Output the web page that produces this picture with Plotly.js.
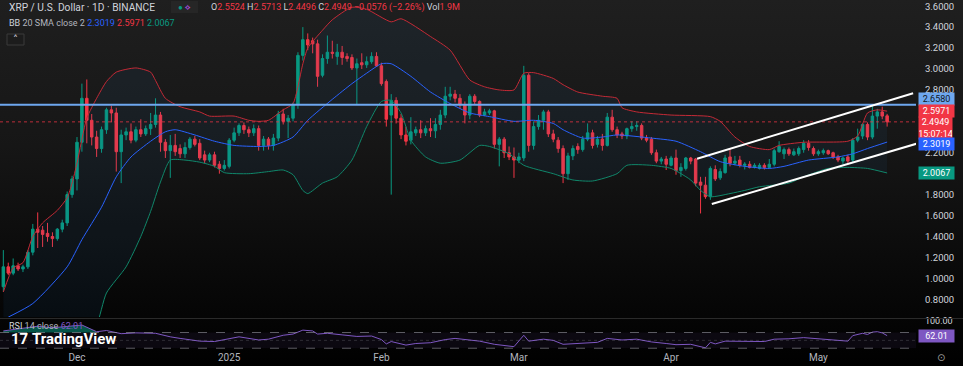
<!DOCTYPE html>
<html><head><meta charset="utf-8">
<script src="https://cdn.plot.ly/plotly-3.0.1.min.js"></script>
<style>
html,body{margin:0;padding:0;width:963px;height:366px;overflow:hidden;
background:linear-gradient(to bottom,#1f1f1f 0%,#161616 40%,#080808 78%,#000 100%);}
#chart{width:963px;height:366px;}
</style></head><body><div id="chart"></div>
<script>
// ---------- DATA (daily candles, first candle 2024-11-16) ----------
const firstDay = '2024-11-16';
const opens = [
0.92,1.11,1.05,1.12,1.09,1.11,1.25,1.47,1.46,1.43,1.40,1.38,1.47,1.53,1.80,
1.95,2.30,2.72,2.51,2.35,2.24,2.42,2.61,2.58,2.21,2.37,2.40,2.32,2.42,2.38,2.43,2.47,2.56,2.30,2.22,2.27,2.24,2.19,2.25,2.33,2.29,2.18,2.13,2.18,2.09,2.05,
2.07,2.32,2.39,2.46,2.42,2.39,2.43,2.27,2.33,2.27,2.34,2.57,2.50,2.53,2.66,3.13,3.28,3.27,3.24,2.94,3.10,3.16,3.12,3.16,3.12,3.11,3.01,3.06,3.04,3.07,3.12,
3.03,2.88,2.56,2.70,2.53,2.37,2.32,2.39,2.42,2.39,2.43,2.41,2.47,2.56,2.74,2.76,2.72,2.66,2.56,2.74,2.69,2.56,2.58,2.60,2.28,2.33,2.20,2.16,
2.13,2.15,2.94,2.27,2.45,2.51,2.59,2.38,2.32,2.24,2.00,2.17,2.26,2.23,2.33,2.39,2.28,2.33,2.27,2.54,2.42,2.38,2.36,2.43,2.45,2.46,2.34,2.33,2.20,2.12,2.14,
2.08,2.15,2.03,2.05,2.15,2.14,1.92,1.89,1.78,2.04,1.96,2.01,2.16,2.10,2.13,2.08,2.09,2.06,2.05,2.08,2.06,2.09,2.21,2.19,2.23,2.18,2.19,2.23,2.29,2.24,
2.19,2.20,2.22,2.20,2.16,2.12,2.16,2.13,2.32,2.36,2.47,2.35,2.55,2.59,2.5524];
const highs = [
1.27,1.15,1.19,1.15,1.13,1.27,1.52,1.63,1.50,1.53,1.44,1.48,1.56,1.83,1.98,
2.35,2.86,2.90,2.57,2.41,2.45,2.63,2.65,2.63,2.42,2.44,2.48,2.45,2.52,2.46,2.58,2.72,2.59,2.33,2.37,2.38,2.28,2.30,2.35,2.36,2.33,2.22,2.20,2.21,2.12,2.13,
2.34,2.44,2.48,2.49,2.45,2.47,2.46,2.36,2.35,2.38,2.60,2.62,2.56,2.68,3.16,3.40,3.34,3.30,3.28,3.14,3.32,3.27,3.24,3.22,3.15,3.14,3.10,3.15,3.12,3.16,3.16,
3.06,2.90,2.76,2.73,2.57,2.45,2.54,2.45,2.51,2.46,2.53,2.53,2.61,2.83,2.83,2.80,2.76,2.69,2.76,2.76,2.70,2.62,2.62,2.61,2.35,2.35,2.26,2.25,
2.20,3.03,2.96,2.50,2.56,2.61,2.61,2.42,2.35,2.27,2.20,2.27,2.29,2.36,2.48,2.42,2.36,2.38,2.58,2.61,2.45,2.40,2.44,2.50,2.50,2.48,2.37,2.35,2.23,2.16,2.17,
2.17,2.23,2.10,2.16,2.16,2.15,1.97,1.97,2.07,2.08,2.05,2.18,2.24,2.17,2.17,2.11,2.12,2.10,2.10,2.10,2.14,2.24,2.31,2.25,2.25,2.24,2.26,2.32,2.32,2.26,
2.23,2.24,2.23,2.21,2.18,2.16,2.18,2.34,2.43,2.48,2.49,2.66,2.62,2.64,2.5713];
const lows = [
0.87,1.03,1.03,1.07,1.06,1.09,1.22,1.29,1.30,1.35,1.30,1.36,1.44,1.50,1.77,
1.84,2.21,2.29,2.27,2.16,2.20,2.38,2.49,2.02,1.91,2.32,2.29,2.30,2.35,2.36,2.37,2.44,2.21,2.15,1.96,2.17,2.15,2.15,2.23,2.26,2.13,2.10,2.11,2.06,2.00,2.03,
2.05,2.30,2.36,2.38,2.35,2.36,2.22,2.22,2.23,2.22,2.31,2.47,2.34,2.50,2.62,3.08,3.18,3.15,2.83,2.92,3.05,3.10,3.04,3.04,3.07,2.99,2.66,3.00,3.01,3.05,3.02,
2.84,2.45,1.80,2.48,2.33,2.27,2.28,2.36,2.34,2.36,2.35,2.34,2.42,2.53,2.70,2.68,2.62,2.48,2.52,2.66,2.54,2.55,2.56,2.24,2.07,2.15,2.13,1.96,
2.10,2.12,2.21,2.23,2.42,2.42,2.35,2.30,2.20,1.91,1.94,2.13,2.19,2.21,2.31,2.24,2.25,2.22,2.26,2.40,2.34,2.33,2.33,2.40,2.41,2.32,2.30,2.18,2.10,2.09,2.035,
2.07,1.99,1.97,2.03,2.09,1.88,1.62,1.76,1.75,1.93,1.94,2.00,2.07,2.08,2.06,2.04,2.05,2.05,2.04,2.04,2.05,2.07,2.20,2.14,2.17,2.17,2.17,2.20,2.22,2.17,
2.17,2.18,2.18,2.14,2.11,2.09,2.10,2.11,2.30,2.33,2.32,2.33,2.43,2.52,2.4496];
const closes = [
1.11,1.05,1.12,1.09,1.11,1.25,1.47,1.44,1.42,1.40,1.38,1.47,1.53,1.80,1.95,
2.30,2.72,2.51,2.35,2.24,2.42,2.61,2.58,2.21,2.37,2.40,2.32,2.42,2.38,2.43,2.47,2.56,2.30,2.22,2.27,2.21,2.19,2.25,2.33,2.28,2.15,2.13,2.18,2.08,2.05,2.08,
2.32,2.39,2.46,2.42,2.39,2.43,2.27,2.33,2.27,2.34,2.57,2.50,2.53,2.66,3.13,3.28,3.23,3.24,2.93,3.10,3.16,3.15,3.16,3.11,3.10,3.01,3.05,3.04,3.07,3.12,3.03,
2.86,2.52,2.70,2.53,2.37,2.31,2.40,2.42,2.39,2.43,2.41,2.47,2.56,2.74,2.76,2.72,2.66,2.56,2.74,2.69,2.56,2.59,2.60,2.28,2.33,2.20,2.16,2.13,
2.16,2.94,2.27,2.45,2.51,2.59,2.38,2.33,2.24,2.00,2.17,2.24,2.23,2.33,2.39,2.27,2.33,2.27,2.54,2.42,2.37,2.36,2.43,2.45,2.46,2.34,2.32,2.20,2.12,2.14,2.09,
2.15,2.03,2.06,2.15,2.12,1.91,1.89,1.78,2.05,1.95,2.02,2.15,2.10,2.12,2.08,2.09,2.06,2.08,2.08,2.06,2.09,2.22,2.26,2.23,2.19,2.21,2.24,2.29,2.25,2.19,
2.21,2.22,2.19,2.16,2.13,2.15,2.12,2.32,2.35,2.47,2.35,2.55,2.59,2.55,2.4949];

// Bollinger Bands (20, 2)
const bbUpperDates = ['2024-11-16','2024-11-18','2024-11-20','2024-11-22','2024-11-24','2024-11-27','2024-11-29','2024-11-30','2024-12-01','2024-12-03','2024-12-05','2024-12-07','2024-12-09','2024-12-13','2024-12-16','2024-12-17','2024-12-19','2024-12-22','2024-12-26','2024-12-28','2025-01-02','2025-01-05','2025-01-07','2025-01-09','2025-01-12','2025-01-14','2025-01-16','2025-01-17','2025-01-20','2025-01-22','2025-01-26','2025-01-29','2025-02-03','2025-02-05','2025-02-11','2025-02-15','2025-02-19','2025-02-22','2025-02-25','2025-02-28','2025-03-02','2025-03-04','2025-03-08','2025-03-10','2025-03-13','2025-03-18','2025-03-21','2025-03-22','2025-03-25','2025-04-01','2025-04-09','2025-04-11','2025-04-14','2025-04-17','2025-04-21','2025-04-23','2025-04-28','2025-05-07','2025-05-09','2025-05-11','2025-05-13','2025-05-15'];
const bbUpperVals = [0.87,1.10,1.15,1.40,1.53,1.65,1.77,1.91,2.10,2.53,2.72,2.88,2.97,3.01,2.97,2.89,2.72,2.64,2.59,2.55,2.55,2.51,2.50,2.51,2.61,2.67,3.05,3.20,3.37,3.47,3.59,3.57,3.45,3.48,3.31,3.18,2.895,2.83,2.80,2.80,2.96,2.965,2.91,2.85,2.78,2.74,2.72,2.63,2.59,2.56,2.545,2.50,2.35,2.26,2.23,2.27,2.30,2.31,2.36,2.58,2.61,2.5971];
const bbBasisDates = ['2024-11-17','2024-11-22','2024-11-29','2024-12-02','2024-12-06','2024-12-09','2024-12-12','2024-12-16','2024-12-19','2024-12-21','2024-12-25','2024-12-29','2025-01-02','2025-01-07','2025-01-10','2025-01-14','2025-01-17','2025-01-22','2025-01-26','2025-01-29','2025-02-01','2025-02-03','2025-02-07','2025-02-11','2025-02-15','2025-02-19','2025-02-23','2025-02-28','2025-03-04','2025-03-08','2025-03-10','2025-03-14','2025-03-18','2025-03-21','2025-03-28','2025-04-02','2025-04-07','2025-04-11','2025-04-16','2025-04-21','2025-04-24','2025-04-29','2025-05-05','2025-05-08','2025-05-11','2025-05-15'];
const bbBasisVals = [0.63,0.76,1.11,1.37,1.68,1.97,2.16,2.31,2.40,2.42,2.37,2.31,2.27,2.26,2.27,2.35,2.51,2.71,2.86,2.96,3.05,3.05,2.93,2.78,2.67,2.58,2.545,2.50,2.51,2.48,2.42,2.34,2.35,2.37,2.34,2.31,2.21,2.115,2.07,2.05,2.07,2.13,2.16,2.19,2.24,2.3019];
const bbLowerDates = ['2024-11-16','2024-11-22','2024-11-29','2024-12-02','2024-12-05','2024-12-07','2024-12-11','2024-12-14','2024-12-16','2024-12-18','2024-12-20','2024-12-23','2024-12-26','2024-12-29','2024-12-31','2025-01-05','2025-01-09','2025-01-12','2025-01-14','2025-01-16','2025-01-17','2025-01-20','2025-01-23','2025-01-26','2025-01-29','2025-02-01','2025-02-03','2025-02-05','2025-02-07','2025-02-10','2025-02-13','2025-02-17','2025-02-21','2025-02-23','2025-02-27','2025-03-02','2025-03-08','2025-03-12','2025-03-16','2025-03-21','2025-03-23','2025-03-28','2025-04-01','2025-04-03','2025-04-05','2025-04-07','2025-04-09','2025-04-13','2025-04-16','2025-04-19','2025-04-25','2025-04-28','2025-05-03','2025-05-07','2025-05-11','2025-05-15'];
const bbLowerVals = [0.30,0.12,0.45,0.34,0.55,0.86,1.11,1.40,1.64,1.92,2.13,2.13,2.11,2.07,2.01,2.00,2.02,2.035,1.99,1.84,1.81,1.91,1.97,2.13,2.45,2.69,2.70,2.58,2.32,2.16,2.10,2.13,2.27,2.26,2.19,2.08,2.00,1.94,1.93,2.00,2.08,2.08,2.05,2.00,1.94,1.84,1.78,1.81,1.84,1.875,1.91,1.97,2.05,2.06,2.05,2.0067];

// RSI (14)
const rsiDates = ['2024-11-16','2024-11-20','2024-11-23','2024-11-26','2024-11-29','2024-12-02','2024-12-05','2024-12-07','2024-12-10','2024-12-13','2024-12-17','2024-12-20','2024-12-22','2024-12-26','2024-12-29','2024-12-31','2025-01-03','2025-01-07','2025-01-09','2025-01-12','2025-01-14','2025-01-16','2025-01-18','2025-01-19','2025-01-21','2025-01-24','2025-01-27','2025-01-30','2025-02-01','2025-02-02','2025-02-03','2025-02-06','2025-02-08','2025-02-11','2025-02-14','2025-02-16','2025-02-19','2025-02-21','2025-02-24','2025-02-26','2025-02-28','2025-03-02','2025-03-03','2025-03-06','2025-03-08','2025-03-10','2025-03-14','2025-03-17','2025-03-19','2025-03-22','2025-03-25','2025-03-28','2025-03-31','2025-04-02','2025-04-05','2025-04-07','2025-04-08','2025-04-09','2025-04-10','2025-04-12','2025-04-16','2025-04-20','2025-04-22','2025-04-25','2025-04-28','2025-05-01','2025-05-05','2025-05-07','2025-05-08','2025-05-10','2025-05-11','2025-05-12','2025-05-13','2025-05-14','2025-05-15'];
const rsiVals = [74,80,86,82,86,89,72,75,67,69,68,59,55,48,47,52,59,51,53,63,66,76,74,66,68,64,60,61,52,41,47,38,42,44,52,55,51,48,40,37,34,63,48,53,50,40,43,45,55,51,53,46,42,39,40,33,31,45,41,48,47,47,53,54,57,54,49,48,62,68,65,71,72,69,62.01];
const rsiOverboughtCount = 7; // first samples sitting above 70

// Axis ticks / labels (only the labels not covered by price tags in the reference)
const priceTicks = [0.8,1.0,1.2,1.4,1.6,1.8,2.2,2.8,3.0,3.2,3.4,3.6];
const monthTicks = ['2024-12-01','2025-01-01','2025-02-01','2025-03-01','2025-04-01','2025-05-01'];
const monthLabels = ['Dec','2025','Feb','Mar','Apr','May'];
const rsiTicks = [100];

// Drawn levels / header values
const levelPrice = 2.6580;
const lastPrice = 2.4949;
const countdown = '15:07:14';
const bbBasisLast = 2.3019, bbUpperLast = 2.5971, bbLowerLast = 2.0067;
const rsiLast = 62.01;
const channelUpper = {x:['2025-04-06 07:00','2025-05-20 07:00'], y:[2.143,2.768]};
const channelLower = {x:['2025-04-09 07:00','2025-05-21 07:00'], y:[1.71,2.29]};

// ---------- BUILD ----------
function dayList(start, n){
  const out=[]; const t0=Date.parse(start+'T00:00:00Z');
  for(let i=0;i<n;i++) out.push(new Date(t0+i*86400000).toISOString().slice(0,10));
  return out;
}
const dates = dayList(firstDay, closes.length);

const UP='#089981', DN='#f23645', FONT='Roboto, "Liberation Sans", Arial, sans-serif';

const traces = [
  {type:'scatter', mode:'lines', x:bbUpperDates, y:bbUpperVals, xaxis:'x', yaxis:'y',
   line:{color:'#c42a36', width:1, shape:'spline', smoothing:0.6}, hoverinfo:'skip'},
  {type:'scatter', mode:'lines', x:bbLowerDates, y:bbLowerVals, xaxis:'x', yaxis:'y',
   fill:'tonexty', fillcolor:'rgba(40,120,190,0.075)',
   line:{color:'#10876a', width:1, shape:'spline', smoothing:0.6}, hoverinfo:'skip'},
  {type:'scatter', mode:'lines', x:bbBasisDates, y:bbBasisVals, xaxis:'x', yaxis:'y',
   line:{color:'#2962ff', width:1, shape:'spline', smoothing:0.6}, hoverinfo:'skip'},
  {type:'candlestick', x:dates, open:opens, high:highs, low:lows, close:closes, xaxis:'x', yaxis:'y',
   increasing:{line:{color:UP,width:1}, fillcolor:UP},
   decreasing:{line:{color:DN,width:1}, fillcolor:DN},
   whiskerwidth:0, hoverinfo:'skip'},
  {type:'scatter', mode:'lines', x:[rsiDates[0], rsiDates[rsiOverboughtCount-1]], y:[70,70], xaxis:'x', yaxis:'y2',
   line:{color:'rgba(0,0,0,0)', width:0}, hoverinfo:'skip'},
  {type:'scatter', mode:'lines', x:rsiDates.slice(0,rsiOverboughtCount), y:rsiVals.slice(0,rsiOverboughtCount), xaxis:'x', yaxis:'y2',
   fill:'tonexty', fillcolor:'rgba(8,153,129,0.55)', line:{color:'rgba(0,0,0,0)', width:0}, hoverinfo:'skip'},
  {type:'scatter', mode:'lines', x:rsiDates, y:rsiVals, xaxis:'x', yaxis:'y2',
   line:{color:'#7e57c2', width:1}, hoverinfo:'skip'}
];

const W=916, H=350;
const px = v => v/W;            // page x -> paper x
const py = v => (H - v)/H;      // page y -> paper y
const span = (t,c)=>`<span style="color:${c}">${t}</span>`;
const RED = '#f23645', TXT='#d1d4dc', GRAY='#b2b5be';

const shapes = [
  {type:'rect', xref:'paper', yref:'y2', x0:0, x1:1, y0:30, y1:70, fillcolor:'rgba(126,87,194,0.08)', line:{width:0}, layer:'below'},
  {type:'line', xref:'paper', yref:'y2', x0:0, x1:1, y0:70, y1:70, line:{color:'rgba(150,150,160,0.6)', width:1, dash:'dash'}},
  {type:'line', xref:'paper', yref:'y2', x0:0, x1:1, y0:30, y1:30, line:{color:'rgba(150,150,160,0.6)', width:1, dash:'dash'}},
  {type:'line', xref:'paper', yref:'y2', x0:0, x1:1, y0:50, y1:50, line:{color:'rgba(150,150,160,0.25)', width:1, dash:'dot'}},
  {type:'line', xref:'paper', yref:'paper', x0:0, x1:1.2, y0:py(318.5), y1:py(318.5), line:{color:'#2a2a2a', width:1}},
  {type:'line', xref:'paper', yref:'y', x0:0, x1:1, y0:levelPrice, y1:levelPrice, line:{color:'#6ea7ef', width:2}},
  {type:'line', xref:'paper', yref:'y', x0:0, x1:1, y0:lastPrice, y1:lastPrice, line:{color:'rgba(242,54,69,0.75)', width:1, dash:'dot'}},
  {type:'line', xref:'x', yref:'y', x0:channelUpper.x[0], x1:channelUpper.x[1], y0:channelUpper.y[0], y1:channelUpper.y[1], line:{color:'#ffffff', width:2}},
  {type:'line', xref:'x', yref:'y', x0:channelLower.x[0], x1:channelLower.x[1], y0:channelLower.y[0], y1:channelLower.y[1], line:{color:'#ffffff', width:2}},
  {type:'rect', xref:'paper', yref:'paper', x0:px(7), x1:px(24), y0:py(45), y1:py(34), fillcolor:'#1c1c1c', line:{color:'#3a3a3a', width:1}},
  {type:'rect', xref:'paper', yref:'paper', x0:px(171), x1:px(198), y0:py(13), y1:py(1), fillcolor:'#262626', line:{width:0}}
];

const tag = (val, txt, bg, fg, shift, anchor, pad) => ({
  xref:'paper', yref:'y', x:px(918), y:val, xanchor:'left', yanchor:anchor||'middle', yshift:shift||0,
  text:txt, showarrow:false, bgcolor:bg, borderpad:(pad===undefined?1:pad), width:33, align:'center',
  font:{family:FONT, size:9, color:fg}
});

const annotations = [
  {xref:'paper', yref:'paper', x:px(7), y:py(7), xanchor:'left', yanchor:'middle', showarrow:false,
   text:'XRP / U.S. Dollar · 1D · BINANCE', font:{family:FONT, size:10.2, color:TXT}},
  {xref:'paper', yref:'paper', x:px(184), y:py(7), xanchor:'center', yanchor:'middle', showarrow:false,
   text:span('●','#089981')+' '+span('⟡','#b150e0'), font:{family:FONT, size:8}},
  {xref:'paper', yref:'paper', x:px(209), y:py(7), xanchor:'left', yanchor:'middle', showarrow:false,
   text:span('O',TXT)+span(opens[opens.length-1].toFixed(4),RED)+' '+span('H',TXT)+span(highs[highs.length-1].toFixed(4),RED)+' '+
        span('L',TXT)+span(lows[lows.length-1].toFixed(4),RED)+' '+span('C',TXT)+span(closes[closes.length-1].toFixed(4),RED)+' '+
        span('−0.0576 (−2.26%)',RED)+' '+span('Vol',TXT)+span('1.9M',RED),
   font:{family:FONT, size:9, color:TXT}},
  {xref:'paper', yref:'paper', x:px(7), y:py(23), xanchor:'left', yanchor:'middle', showarrow:false,
   text:span('BB',TXT)+' '+span('20 SMA close 2',GRAY)+' '+span(bbBasisLast.toFixed(4),'#2962ff')+' '+span(bbUpperLast.toFixed(4),RED)+' '+span(bbLowerLast.toFixed(4),'#089981'),
   font:{family:FONT, size:9, color:TXT}},
  {xref:'paper', yref:'paper', x:px(15.5), y:py(39.5), xanchor:'center', yanchor:'middle', showarrow:false,
   text:'˄', font:{family:'DejaVu Sans', size:10, color:'#d1d4dc'}},
  {xref:'paper', yref:'paper', x:px(7), y:py(326), xanchor:'left', yanchor:'middle', showarrow:false,
   text:span('RSI',TXT)+' '+span('14 close',GRAY)+' '+span(rsiLast.toFixed(2),'#7e57c2'), font:{family:FONT, size:9, color:TXT}},
  {xref:'paper', yref:'paper', x:px(9), y:py(339), xanchor:'left', yanchor:'middle', showarrow:false,
   text:'<b>17</b> <b>TradingView</b>', font:{family:FONT, size:15, color:'#ffffff'}},
  {xref:'paper', yref:'paper', x:px(941), y:py(357), xanchor:'center', yanchor:'middle', showarrow:false,
   text:'⊙', font:{family:'DejaVu Sans', size:10, color:'#9a9a9a'}},
  tag(levelPrice, levelPrice.toFixed(4), '#6ea7ef', '#131722', 6),
  tag(bbUpperLast, bbUpperLast.toFixed(4), '#f23645', '#ffffff', 0),
  tag(lastPrice, lastPrice.toFixed(4)+'<br>'+countdown, '#f23645', '#ffffff', 6, 'top', 0),
  tag(bbBasisLast, bbBasisLast.toFixed(4), '#2962ff', '#ffffff', -2),
  tag(bbLowerLast, bbLowerLast.toFixed(4), '#089981', '#ffffff', 0),
  {xref:'paper', yref:'y2', x:px(918), y:rsiLast, xanchor:'left', yanchor:'middle', text:rsiLast.toFixed(2), showarrow:false,
   bgcolor:'#7e57c2', borderpad:1, width:33, align:'center', font:{family:FONT, size:9, color:'#ffffff'}}
];

const layout = {
  width:963, height:366,
  margin:{l:0, r:963-W, t:0, b:366-H, pad:0},
  paper_bgcolor:'rgba(0,0,0,0)', plot_bgcolor:'rgba(0,0,0,0)',
  showlegend:false, hovermode:false, dragmode:false,
  boxgap:0.28,
  xaxis:{type:'date', range:['2024-11-15 07:40','2025-05-20 21:07'], anchor:'y2',
    tickvals:monthTicks, ticktext:monthLabels, showgrid:false, zeroline:false, showline:false, ticks:'',
    rangeslider:{visible:false}, tickfont:{family:FONT, size:10, color:GRAY}},
  yaxis:{domain:[py(317),1], range:[0.631,3.659], side:'right', anchor:'x',
    tickvals:priceTicks, tickformat:'.4f', showgrid:false, zeroline:false, showline:false, ticks:'',
    ticklabelstandoff:8, tickfont:{family:FONT, size:9.5, color:TXT}},
  yaxis2:{domain:[0, py(320.7)], range:[25.5,100], side:'right', anchor:'x',
    tickvals:rsiTicks, tickformat:'.2f', showgrid:false, zeroline:false, showline:false, ticks:'',
    ticklabelstandoff:8, tickfont:{family:FONT, size:9, color:TXT}},
  shapes:shapes, annotations:annotations
};

Plotly.newPlot('chart', traces, layout, {staticPlot:true, displayModeBar:false});
</script></body></html>
